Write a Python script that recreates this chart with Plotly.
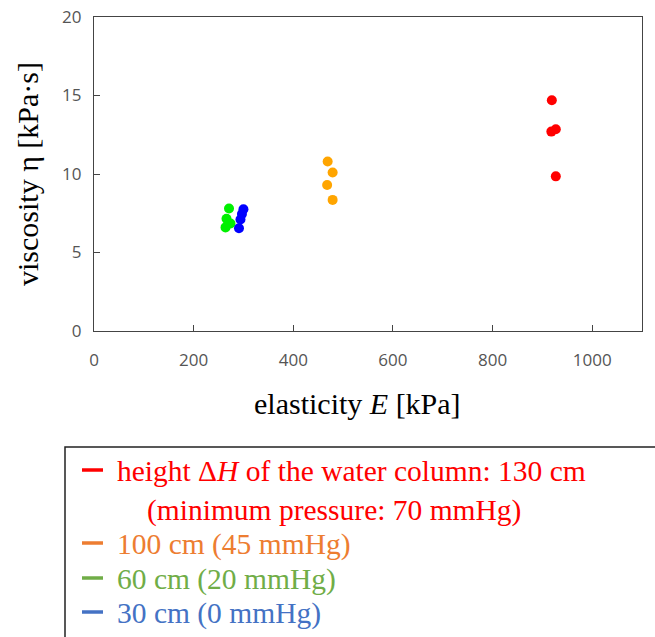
import plotly.graph_objects as go

# Data (elasticity E [kPa], viscosity eta [kPa*s])
red_E = [919, 918, 927, 927]
red_eta = [14.7, 12.7, 12.85, 9.85]
orange_E = [469, 479, 468, 479]
orange_eta = [10.8, 10.1, 9.3, 8.35]
green_E = [271, 266, 274, 264]
green_eta = [7.8, 7.15, 6.85, 6.6]
blue_E = [300, 297, 294, 291]
blue_eta = [7.75, 7.45, 7.1, 6.55]

x_ticks = [0, 200, 400, 600, 800, 1000]
y_ticks = [0, 5, 10, 15, 20]

legend_texts = [
    "height Δ<i>H</i> of the water column: 130 cm",
    "(minimum pressure: 70 mmHg)",
    "100 cm (45 mmHg)",
    "60 cm (20 mmHg)",
    "30 cm (0 mmHg)",
]
legend_colors = ["#ff0000", "#ff0000", "#ed7d31", "#70ad47", "#4472c4"]

W, H = 655, 637
L, R, T, B = 94, 642, 17, 331


def px(x):
    return (x - L) / (R - L)


def py(y):
    return (B - y) / (B - T)


fig = go.Figure()
for xs, ys, c, n in [
    (red_E, red_eta, "#ff0000", "130 cm"),
    (orange_E, orange_eta, "#ffa500", "100 cm"),
    (green_E, green_eta, "#00f000", "60 cm"),
    (blue_E, blue_eta, "#0000ff", "30 cm"),
]:
    fig.add_trace(go.Scatter(x=xs, y=ys, mode="markers", name=n,
                             marker=dict(size=10, color=c, line=dict(width=0))))

axis_common = dict(
    showgrid=False, zeroline=False, showline=True, linecolor="#444", linewidth=1.3,
    mirror=True, ticks="inside", ticklen=6, tickcolor="#444", tickwidth=1.3,
    tickfont=dict(family="Open Sans", size=17, color="#555"),
)
fig.update_xaxes(range=[0, 1100], tickvals=x_ticks, ticklabelstandoff=13, **axis_common)
fig.update_yaxes(range=[0, 20], tickvals=y_ticks, ticklabelstandoff=8,
                 title=dict(text="viscosity η [kPa·s]", standoff=14,
                            font=dict(family="Liberation Serif", size=30, color="#000")),
                 **axis_common)

# x-axis title
fig.add_annotation(text="elasticity <i>E</i> [kPa]", xref="paper", yref="paper",
                   x=px(357), y=py(403), xanchor="center", yanchor="middle", showarrow=False,
                   font=dict(family="Liberation Serif", size=30, color="#000"))

# Legend box
fig.add_shape(type="rect", xref="paper", yref="paper",
              x0=px(65), x1=px(670), y0=py(447), y1=py(660),
              line=dict(color="#222", width=1.5), fillcolor="rgba(0,0,0,0)")

rows_y = [471, 511, 544, 579, 613]
rows_x = [115, 145, 115, 115, 115]
for i, (t, c) in enumerate(zip(legend_texts, legend_colors)):
    fig.add_annotation(text=t, xref="paper", yref="paper", x=px(rows_x[i]), y=py(rows_y[i]),
                       xanchor="left", yanchor="middle", showarrow=False,
                       font=dict(family="Liberation Serif", size=29.5, color=c))
    if i != 1:
        fig.add_shape(type="line", xref="paper", yref="paper",
                      x0=px(82), x1=px(103), y0=py(rows_y[i] - 1), y1=py(rows_y[i] - 1),
                      line=dict(color=c, width=3.5))

fig.update_layout(
    width=W, height=H,
    margin=dict(l=L, r=W - R, t=T, b=H - B, autoexpand=False),
    paper_bgcolor="white", plot_bgcolor="white",
    showlegend=False,
)

fig.write_html("out.html")
